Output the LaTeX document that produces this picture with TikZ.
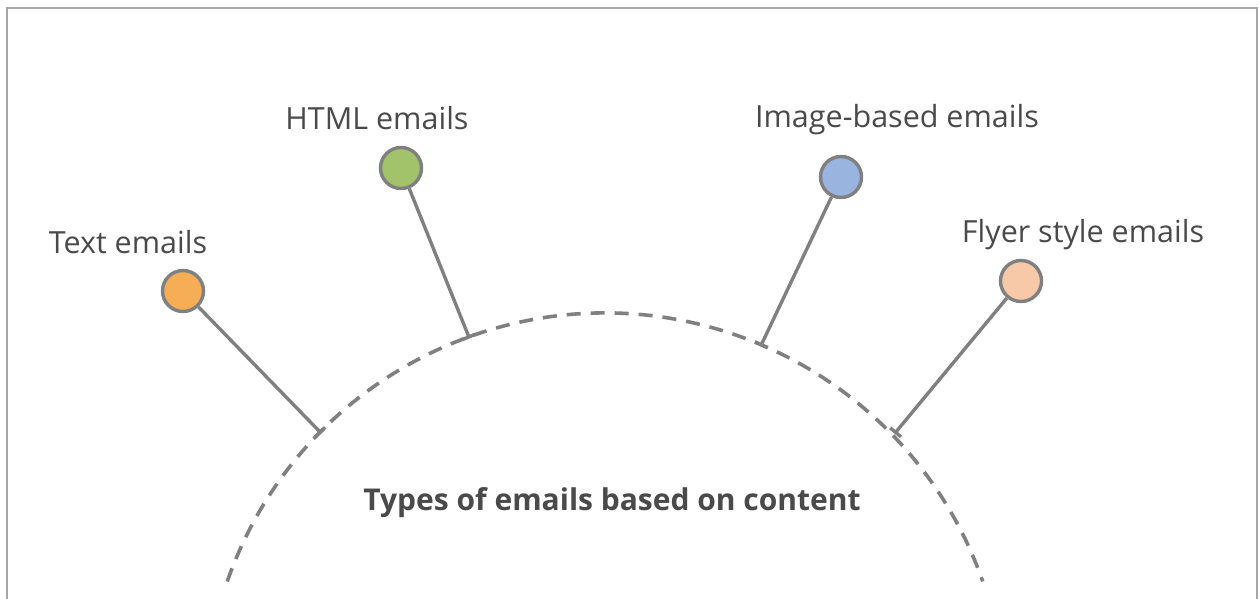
\documentclass[tikz,border=0pt]{standalone}
\usepackage{fontspec}
\setmainfont{Open Sans}
\usetikzlibrary{calc,positioning}
\definecolor{ink}{HTML}{4A4A4A}
\definecolor{pin}{HTML}{808080}
\definecolor{frame}{HTML}{A6A6A6}
\definecolor{textfill}{HTML}{F5AE55}
\definecolor{htmlfill}{HTML}{A3C36A}
\definecolor{imagefill}{HTML}{9AB4E0}
\definecolor{flyerfill}{HTML}{F7C9A8}
\tikzset{
 x=1pt,y=1pt,
 every node/.append style={text=ink},
 head/.style={circle,draw=pin,line width=3.4pt,minimum size=41pt,inner sep=0pt},
 word/.style={font=\fontsize{30.5}{34}\selectfont,inner sep=1pt},
 title/.style={font=\fontsize{30}{34}\selectfont\bfseries,inner sep=1pt},
 stem/.style={draw=pin,line width=3.4pt},
 tick/.style={draw=pin,line width=3.4pt},
 rim/.style={draw=pin,line width=3.6pt,dash pattern=on 14pt off 10pt},
}

\begin{document}
\begin{tikzpicture}

\useasboundingbox (0,0) rectangle (1259,599);
\draw[frame,line width=2.6pt] (7,-5) -- (7,591) -- (1257,591) -- (1257,-5);

% dashed half circle
\coordinate (hub) at (605,-114);
\draw[rim] ($(hub)+(160.8:400)$) arc[start angle=160.8,end angle=19.2,radius=400];
\node[title] (topic) at (612,96) {Types of emails based on content};

% pins on the rim
\coordinate (t1) at ($(hub)+(135.4:400)$);
\coordinate (t2) at ($(hub)+(109.9:400)$);
\coordinate (t3) at ($(hub)+(67.0:400)$);
\coordinate (t4) at ($(hub)+(44.0:404)$);

\node[head,fill=textfill] (c1) at (183,308) {};
\node[head,fill=htmlfill] (c2) at (401,431) {};
\node[head,fill=imagefill] (c3) at (841,422) {};
\node[head,fill=flyerfill] (c4) at (1021,318) {};

\node[word] (l1) at (128,357) {Text emails};
\node[word] (l2) at (377,481) {HTML emails};
\node[word] (l3) at (897,479) {Image-based emails};
\node[word] (l4) at (1083,364) {Flyer style emails};

\foreach \i in {1,...,4}{
  \draw[stem] (c\i) -- (t\i);
  \draw[tick] ($(t\i)!7pt!90:(c\i)$) -- ($(t\i)!7pt!-90:(c\i)$);
}

\end{tikzpicture}
\end{document}
